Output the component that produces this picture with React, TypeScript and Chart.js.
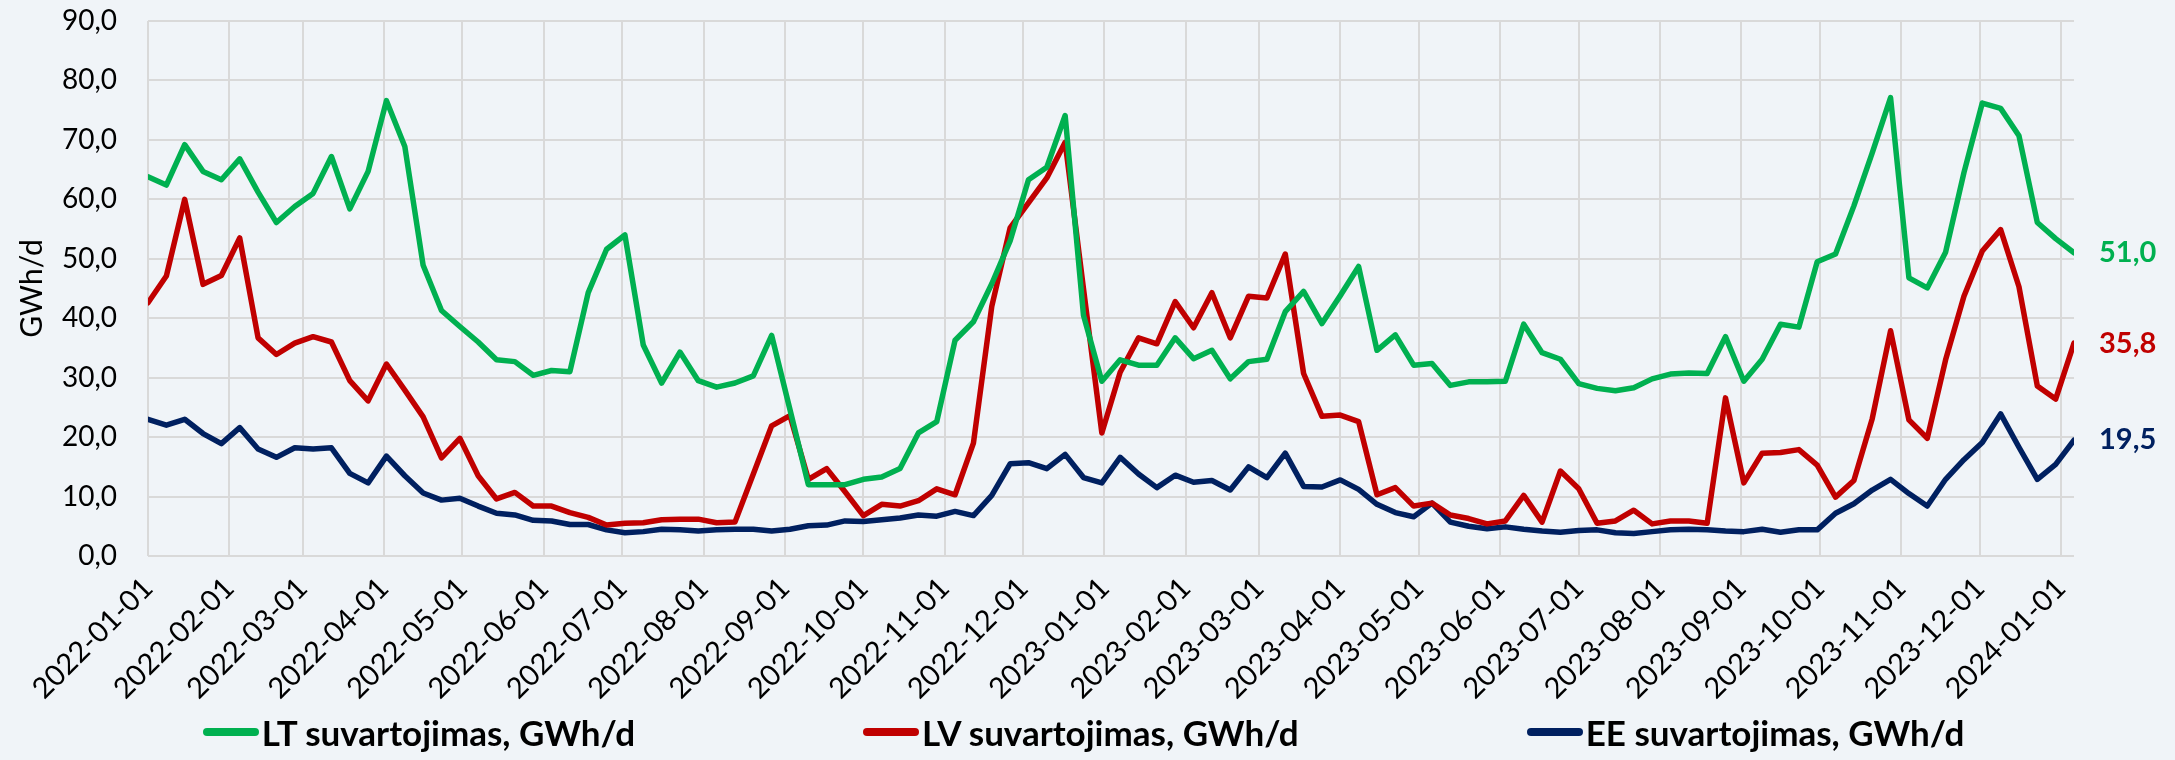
import { useEffect, useRef } from "react";
import { Chart, registerables } from "chart.js";

Chart.register(...registerables);

// ---------- data ----------
const START_DATE = "2022-01-01";
const WEEK_STEP_DAYS = 7;

const monthTickLabels = [
  "2022-01-01", "2022-02-01", "2022-03-01", "2022-04-01", "2022-05-01", "2022-06-01",
  "2022-07-01", "2022-08-01", "2022-09-01", "2022-10-01", "2022-11-01", "2022-12-01",
  "2023-01-01", "2023-02-01", "2023-03-01", "2023-04-01", "2023-05-01", "2023-06-01",
  "2023-07-01", "2023-08-01", "2023-09-01", "2023-10-01", "2023-11-01", "2023-12-01",
  "2024-01-01",
];

const seriesNames = [
  "LT suvartojimas, GWh/d",
  "LV suvartojimas, GWh/d",
  "EE suvartojimas, GWh/d",
];

const ltValues = [
  63.8, 62.4, 69.2, 64.7, 63.3, 66.8, 61.2, 56.1, 58.8, 61.0, 67.2, 58.4, 64.7, 76.6, 68.9, 48.9, 41.3, 38.6,
  36.0, 33.0, 32.7, 30.4, 31.2, 31.0, 44.3, 51.6, 54.0, 35.5, 29.1, 34.3, 29.5, 28.4, 29.1, 30.3, 37.1, 24.6,
  12.0, 12.0, 12.0, 12.9, 13.3, 14.7, 20.7, 22.6, 36.3, 39.4, 45.8, 53.0, 63.3, 65.4, 74.1, 40.5, 29.4,
  33.0, 32.1, 32.1, 36.7, 33.2, 34.6, 29.8, 32.7, 33.1, 41.1, 44.5, 39.1, 43.8, 48.7, 34.6, 37.2, 32.1, 32.4,
  28.7, 29.3, 29.3, 29.4, 39.0, 34.2, 33.1, 29.0, 28.2, 27.8, 28.3, 29.8, 30.6, 30.8, 30.7, 36.9, 29.4,
  33.1, 39.0, 38.5, 49.5, 50.8, 58.9, 67.8, 77.1, 46.8, 45.1, 51.1, 64.5, 76.2, 75.3, 70.7, 56.1, 53.4, 51.0,
];

const lvValues = [
  42.6, 47.1, 60.0, 45.7, 47.2, 53.5, 36.7, 33.9, 35.8, 36.9, 36.0, 29.5, 26.1, 32.3, 27.9, 23.4, 16.5, 19.8,
  13.5, 9.6, 10.7, 8.4, 8.4, 7.3, 6.5, 5.2, 5.5, 5.6, 6.1, 6.2, 6.2, 5.6, 5.7, 13.8, 21.9, 23.6,
  12.9, 14.7, 10.8, 6.8, 8.7, 8.4, 9.3, 11.3, 10.3, 19.0, 42.0, 55.2, 59.4, 63.6, 69.6, 45.0, 20.7,
  30.9, 36.7, 35.7, 42.8, 38.4, 44.3, 36.7, 43.7, 43.4, 50.8, 30.7, 23.5, 23.7, 22.6, 10.3, 11.5, 8.4, 8.9,
  6.9, 6.3, 5.4, 5.9, 10.2, 5.7, 14.3, 11.3, 5.5, 5.9, 7.7, 5.4, 5.9, 5.9, 5.5, 26.6, 12.3,
  17.3, 17.4, 17.9, 15.3, 9.9, 12.7, 23.1, 37.9, 22.9, 19.8, 33.0, 43.7, 51.3, 54.9, 45.3, 28.6, 26.4, 35.8,
];

const eeValues = [
  23.0, 22.0, 23.0, 20.6, 18.9, 21.6, 18.0, 16.6, 18.2, 18.0, 18.2, 13.9, 12.3, 16.8, 13.5, 10.6, 9.4, 9.7,
  8.4, 7.2, 6.9, 6.0, 5.9, 5.3, 5.3, 4.4, 3.9, 4.1, 4.5, 4.4, 4.2, 4.4, 4.5, 4.5, 4.2, 4.5,
  5.1, 5.2, 5.9, 5.8, 6.1, 6.4, 6.9, 6.7, 7.5, 6.8, 10.2, 15.5, 15.7, 14.7, 17.1, 13.2, 12.3,
  16.6, 13.8, 11.5, 13.6, 12.4, 12.7, 11.1, 15.0, 13.2, 17.3, 11.7, 11.6, 12.8, 11.2, 8.7, 7.3, 6.6, 8.9,
  5.7, 5.0, 4.6, 4.9, 4.5, 4.2, 4.0, 4.3, 4.4, 3.9, 3.8, 4.1, 4.4, 4.5, 4.4, 4.2, 4.1,
  4.5, 4.0, 4.4, 4.4, 7.2, 8.8, 11.1, 12.9, 10.5, 8.4, 12.9, 16.2, 19.1, 23.9, 18.3, 12.9, 15.4, 19.5,
];

const yTickMin = 0;
const yTickMax = 90;
const yTickStep = 10;

// ---------- styles ----------
const COLORS = ["#00B050", "#C00000", "#002060"];
const BG = "#F0F4F8";
const GRID = "#D9D9D9";
const FONT = "Lato, 'Open Sans', sans-serif";

const DAY_MS = 86400000;
const dayOffset = (iso: string) =>
  (Date.parse(iso + "T00:00:00Z") - Date.parse(START_DATE + "T00:00:00Z")) / DAY_MS;

const fmt = (v: number) => v.toFixed(1).replace(".", ",");

const endLabelPlugin = {
  id: "endLabels",
  afterDatasetsDraw(chart: any) {
    const ctx = chart.ctx;
    ctx.save();
    ctx.font = `bold 29px ${FONT}`;
    ctx.textAlign = "left";
    ctx.textBaseline = "middle";
    chart.data.datasets.forEach((ds: any, i: number) => {
      const meta = chart.getDatasetMeta(i);
      const pt = meta.data[meta.data.length - 1];
      const raw = ds.data[ds.data.length - 1];
      ctx.fillStyle = ds.borderColor;
      ctx.fillText(fmt(raw.y), pt.x + 25, pt.y);
    });
    ctx.restore();
  },
};

export default function App() {
  const ref = useRef<HTMLCanvasElement | null>(null);

  useEffect(() => {
    document.body.style.margin = "0";
    const canvas = ref.current;
    if (!canvas) return;
    const seriesList = [ltValues, lvValues, eeValues];
    const datasets = seriesList.map((vals, i) => ({
      label: seriesNames[i],
      data: vals.map((v, k) => ({ x: k * WEEK_STEP_DAYS, y: v })),
      borderColor: COLORS[i],
      backgroundColor: COLORS[i],
      borderWidth: 5.5,
      pointRadius: 0,
      tension: 0,
      borderJoinStyle: "round" as const,
      borderCapStyle: "round" as const,
    }));
    const lastDay = (ltValues.length - 1) * WEEK_STEP_DAYS;
    const tickMap = new Map<number, string>();
    monthTickLabels.forEach((l) => tickMap.set(dayOffset(l), l));

    const chart = new Chart(canvas, {
      type: "line",
      data: { datasets },
      plugins: [endLabelPlugin],
      options: {
        responsive: false,
        animation: false,
        devicePixelRatio: 1,
        layout: { padding: { left: 0, top: 21, right: 101, bottom: 54 } },
        plugins: {
          legend: { display: false },
          tooltip: { enabled: false },
        },
        scales: {
          x: {
            type: "linear",
            min: 0,
            max: lastDay,
            afterBuildTicks: (s: any) => {
              s.ticks = monthTickLabels.map((l) => ({ value: dayOffset(l) }));
            },
            afterFit: (s: any) => {
              s.height = 150;
            },
            ticks: {
              autoSkip: false,
              minRotation: 45,
              maxRotation: 45,
              padding: 15,
              color: "#000",
              font: { family: FONT, size: 29 },
              callback: (v: any) => tickMap.get(Number(v)) ?? "",
            },
            grid: { color: GRID, lineWidth: 2, drawTicks: false },
            border: { display: false },
          },
          y: {
            min: yTickMin,
            max: yTickMax,
            afterFit: (s: any) => {
              s.width = 148;
            },
            ticks: {
              stepSize: yTickStep,
              padding: 3,
              color: "#000",
              font: { family: FONT, size: 28 },
              callback: (v: any) => fmt(Number(v)),
            },
            title: {
              display: true,
              text: "GWh/d",
              color: "#000",
              font: { family: FONT, size: 30 },
              padding: { top: 14, bottom: 0 },
            },
            grid: {
              color: GRID,
              lineWidth: 2,
              drawTicks: true,
              tickLength: 28,
              tickColor: "rgba(0,0,0,0)",
            },
            border: { display: false },
          },
        },
      },
    });
    return () => chart.destroy();
  }, []);

  return (
    <div style={{ position: "relative", width: 2175, height: 760, background: BG, overflow: "hidden" }}>
      <canvas ref={ref} width={2175} height={760} style={{ display: "block", width: 2175, height: 760 }} />
      <div
        style={{
          position: "absolute",
          left: 0,
          top: 712,
          width: 2175,
          height: 40,
          display: "flex",
          justifyContent: "center",
          alignItems: "center",
          gap: 228,
          paddingRight: 8,
          boxSizing: "border-box",
          fontFamily: FONT,
          fontWeight: 700,
          fontSize: 35,
          color: "#000",
          whiteSpace: "nowrap",
        }}
      >
        {seriesNames.map((name, i) => (
          <div key={name} style={{ display: "flex", alignItems: "center" }}>
            <span
              style={{
                display: "inline-block",
                width: 56,
                height: 8,
                borderRadius: 4,
                background: COLORS[i],
                marginRight: 3,
              }}
            />
            <span>{name}</span>
          </div>
        ))}
      </div>
    </div>
  );
}
